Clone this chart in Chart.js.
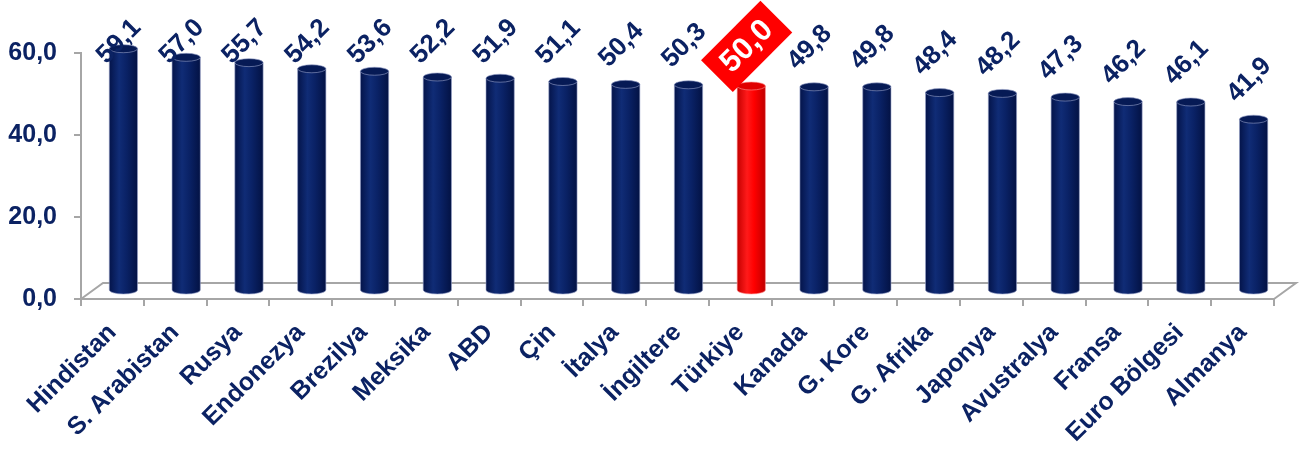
<!DOCTYPE html>
<html>
<head>
<meta charset="utf-8">
<script src="https://cdn.jsdelivr.net/npm/chart.js@4.4.1/dist/chart.umd.min.js"></script>
<style>
  html, body { margin: 0; padding: 0; background: #ffffff; }
  #wrap { width: 1306px; height: 450px; }
</style>
</head>
<body>
<div id="wrap"><canvas id="chart" width="1306" height="450"></canvas></div>
<script>
// veriler
const ulkeler = ['Hindistan', 'S. Arabistan', 'Rusya', 'Endonezya', 'Brezilya', 'Meksika', 'ABD', 'Çin', 'İtalya',
    'İngiltere', 'Türkiye', 'Kanada', 'G. Kore', 'G. Afrika', 'Japonya', 'Avustralya', 'Fransa', 'Euro Bölgesi', 'Almanya'];
const degerler = [59.1, 57.0, 55.7, 54.2, 53.6, 52.2, 51.9, 51.1, 50.4, 50.3, 50.0, 49.8, 49.8, 48.4, 48.2, 47.3, 46.2, 46.1, 41.9];
const vurgulu = 'Türkiye';

const LACIVERT = '#0b2263';
const GRI = '#a6a6a6';
const DERINLIK = { x: 22, y: -16 };
const YAZI = '"Liberation Sans", Arial, sans-serif';

function virgul(v) {
    return v.toFixed(1).replace('.', ',');
}

// 3B zemin ve silindirler
const silindirPlugin = {
    id: 'silindir',
    beforeDatasetsDraw(chart) {
        const { ctx, chartArea } = chart;
        const y0 = chart.scales.y.getPixelForValue(0);
        ctx.save();
        ctx.strokeStyle = GRI;
        ctx.lineWidth = 2;
        ctx.beginPath();
        ctx.moveTo(chartArea.left, y0);
        ctx.lineTo(chartArea.left + DERINLIK.x, y0 + DERINLIK.y);
        ctx.lineTo(chartArea.right + DERINLIK.x, y0 + DERINLIK.y);
        ctx.lineTo(chartArea.right, y0);
        ctx.stroke();
        ctx.restore();
    },
    afterDatasetsDraw(chart) {
        const { ctx } = chart;
        const meta = chart.getDatasetMeta(0);
        meta.data.forEach((bar, i) => {
            const kirmizi = ulkeler[i] === vurgulu;
            const rx = bar.width / 2;
            const ry = 4;
            const cx = bar.x + DERINLIK.x / 2;
            const ust = bar.y + DERINLIK.y / 2;
            const alt = bar.base + DERINLIK.y / 2;

            const g = ctx.createLinearGradient(cx - rx, 0, cx + rx, 0);
            if (kirmizi) {
                g.addColorStop(0, '#c40000');
                g.addColorStop(0.35, '#ff1a1a');
                g.addColorStop(0.6, '#ff0000');
                g.addColorStop(1, '#c00000');
            } else {
                g.addColorStop(0, '#04144a');
                g.addColorStop(0.35, '#102c76');
                g.addColorStop(0.6, '#0a2266');
                g.addColorStop(1, '#031244');
            }
            ctx.save();
            ctx.beginPath();
            ctx.moveTo(cx - rx, ust);
            ctx.lineTo(cx - rx, alt);
            ctx.ellipse(cx, alt, rx, ry, 0, Math.PI, 0, true);
            ctx.lineTo(cx + rx, ust);
            ctx.closePath();
            ctx.fillStyle = g;
            ctx.fill();
            ctx.strokeStyle = kirmizi ? 'rgba(255,150,150,0.6)' : 'rgba(150,160,200,0.6)';
            ctx.lineWidth = 1;
            ctx.stroke();

            ctx.beginPath();
            ctx.ellipse(cx, ust, rx, ry, 0, 0, Math.PI * 2);
            ctx.fillStyle = kirmizi ? '#e00000' : '#061a55';
            ctx.fill();
            ctx.stroke();
            ctx.restore();

            // değer etiketi (grafik alanının üstünde sıkışanlar aşağı itilir)
            const lx = cx - 5;
            const ly = Math.max(ust - 40, 41);
            ctx.save();
            ctx.translate(lx, ly);
            ctx.rotate(-Math.PI / 4);
            ctx.textAlign = 'center';
            ctx.textBaseline = 'middle';
            if (kirmizi) {
                ctx.fillStyle = '#ff0000';
                ctx.fillRect(-42, -22, 84, 45);
                ctx.font = 'bold 31px ' + YAZI;
                ctx.fillStyle = '#ffffff';
            } else {
                ctx.font = 'bold 26px ' + YAZI;
                ctx.fillStyle = LACIVERT;
            }
            ctx.fillText(virgul(degerler[i]), 0, 1);
            ctx.restore();
        });
    }
};

new Chart(document.getElementById('chart'), {
    type: 'bar',
    data: {
        labels: ulkeler,
        datasets: [{
            data: degerler,
            backgroundColor: 'rgba(0,0,0,0)',
            borderWidth: 0,
            barPercentage: 0.9,
            categoryPercentage: 0.5
        }]
    },
    options: {
        responsive: false,
        animation: false,
        layout: { padding: { top: 53, right: 32, left: 0, bottom: 0 } },
        plugins: {
            legend: { display: false },
            tooltip: { enabled: false }
        },
        scales: {
            x: {
                afterFit: (s) => { s.height = 151; },
                grid: { drawOnChartArea: false, tickLength: 7, color: GRI, lineWidth: 2 },
                border: { color: GRI, width: 2 },
                ticks: {
                    color: LACIVERT,
                    font: { family: YAZI, size: 25, weight: 'bold' },
                    minRotation: 45,
                    maxRotation: 45,
                    autoSkip: false,
                    padding: 12
                }
            },
            y: {
                min: 0,
                max: 60,
                afterFit: (s) => { s.width = 81; },
                grid: { drawOnChartArea: false, tickLength: 7, color: GRI, lineWidth: 2 },
                border: { color: GRI, width: 2 },
                ticks: {
                    stepSize: 20,
                    color: LACIVERT,
                    padding: 17,
                    font: { family: YAZI, size: 25, weight: 'bold' },
                    callback: (v) => virgul(v)
                }
            }
        }
    },
    plugins: [silindirPlugin]
});
</script>
</body>
</html>
